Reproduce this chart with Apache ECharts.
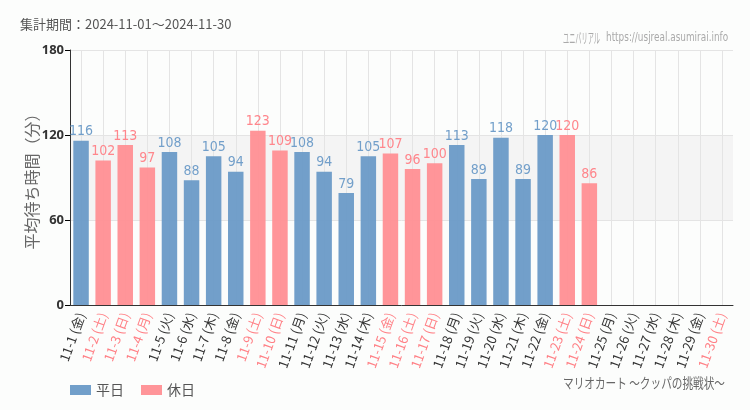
<!DOCTYPE html>
<html><head><meta charset="utf-8">
<script src="https://cdn.jsdelivr.net/npm/echarts@6/dist/echarts.min.js"></script>
<style>html,body{margin:0;padding:0;background:#fcfdfc}#c{width:750px;height:410px}</style>
</head><body><div id="c"></div>
<script>
const categories = ['11-1 (金)','11-2 (土)','11-3 (日)','11-4 (月)','11-5 (火)','11-6 (水)','11-7 (木)','11-8 (金)','11-9 (土)','11-10 (日)','11-11 (月)','11-12 (火)','11-13 (水)','11-14 (木)','11-15 (金)','11-16 (土)','11-17 (日)','11-18 (月)','11-19 (火)','11-20 (水)','11-21 (木)','11-22 (金)','11-23 (土)','11-24 (日)','11-25 (月)','11-26 (火)','11-27 (水)','11-28 (木)','11-29 (金)','11-30 (土)'];
const holidayFlags = [0,1,1,1,0,0,0,0,1,1,0,0,0,0,1,1,1,0,0,0,0,0,1,1,0,0,0,0,0,1];
const waitValues = [116,102,113,97,108,88,105,94,123,109,108,94,79,105,107,96,100,113,89,118,89,120,120,86,null,null,null,null,null,null];
const yTicks = [0,60,120,180];

const BLUE = '#6a9ac7', PINK = '#ff8f94', PINKTXT = '#ff8086';
const weekday = waitValues.map((v,i)=> holidayFlags[i] ? null : v);
const holiday = waitValues.map((v,i)=> holidayFlags[i] ? v : null);

const chart = echarts.init(document.getElementById('c'));
chart.setOption({
  backgroundColor: '#fcfdfc',
  animation: false,
  grid: {left: 70, right: 17, top: 50, bottom: 105},
  title: [
    {text: '集計期間：2024-11-01～2024-11-30', left: 20, top: 18, padding: 0, textStyle: {fontSize: 13, fontWeight: 'normal', color: '#555', fontFamily: 'Noto Sans CJK JP'}}
  ],
  graphic: [
    {type: 'text', x: 563, y: 31, scaleX: 0.44, style: {text: 'ユニバリアル', font: '14px "Noto Sans CJK JP"', fill: '#aaa'}},
    {type: 'text', x: 606, y: 31, scaleX: 0.76, style: {text: 'https://usjreal.asumirai.info', font: '13px "DejaVu Sans Condensed"', fill: '#aaa'}},
    {type: 'text', x: 563, y: 376, scaleX: 0.76, style: {text: 'マリオカート ～クッパの挑戦状～', font: '14px "Noto Sans CJK JP"', fill: '#666'}}
  ],
  legend: {
    left: 65, top: 378, itemWidth: 21, itemHeight: 10, itemGap: 17,
    icon: 'rect',
    textStyle: {fontSize: 14, color: '#555', fontFamily: 'Noto Sans CJK JP'},
    data: ['平日','休日']
  },
  xAxis: {
    type: 'category', data: categories,
    axisLine: {lineStyle: {color: '#333'}},
    axisTick: {alignWithLabel: true, lineStyle: {color: '#000'}},
    splitLine: {show: true, alignWithLabel: true, lineStyle: {color: '#e4e4e4'}},
    axisLabel: {
      rotate: 70, interval: 0, fontSize: 13, fontFamily: 'Noto Sans CJK JP', margin: 8,
      color: (val, idx) => holidayFlags[idx] ? PINKTXT : '#333'
    }
  },
  yAxis: {
    type: 'value', min: 0, max: 180, interval: 60,
    name: '平均待ち時間（分）', nameLocation: 'middle', nameGap: 30, nameMoveOverlap: false,
    nameTextStyle: {fontSize: 16, color: '#666', fontFamily: 'Noto Sans CJK JP'},
    axisLine: {show: true, lineStyle: {color: '#333'}},
    axisTick: {show: true, lineStyle: {color: '#000'}},
    axisLabel: {fontSize: 13, fontWeight: 'bold', color: '#333', fontFamily: 'Noto Sans', margin: 6, formatter: v => yTicks.includes(v) ? String(v) : ''},
    splitLine: {show: true, lineStyle: {color: '#e4e4e4'}},
    splitArea: {show: true, areaStyle: {color: ['rgba(0,0,0,0)', '#f4f4f4', 'rgba(0,0,0,0)']}}
  },
  series: [
    {name: '平日', type: 'bar', stack: 'a', data: weekday, barWidth: '70%',
     itemStyle: {color: BLUE, opacity: 0.95},
     label: {show: true, position: 'top', distance: 2, color: BLUE, fontSize: 14, fontFamily: 'DejaVu Sans Condensed'}},
    {name: '休日', type: 'bar', stack: 'a', data: holiday, barWidth: '70%',
     itemStyle: {color: PINK, opacity: 0.95},
     label: {show: true, position: 'top', distance: 2, color: PINKTXT, fontSize: 14, fontFamily: 'DejaVu Sans Condensed'}}
  ]
});
</script></body></html>
